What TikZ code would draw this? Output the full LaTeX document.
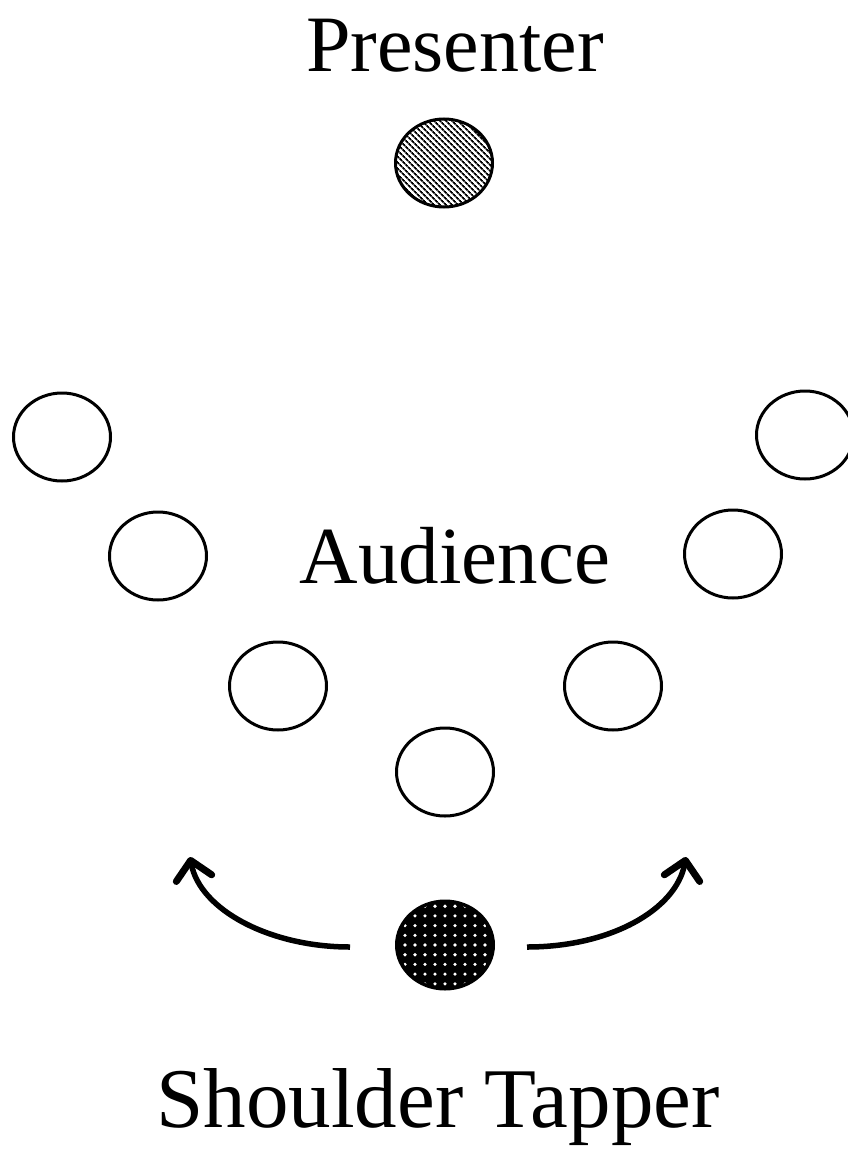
\documentclass[tikz,border=0pt]{standalone}
\usepackage{fontspec}
\setmainfont{Liberation Serif}
\usetikzlibrary{shapes.geometric,arrows.meta,patterns.meta}
\tikzset{
  person/.style={ellipse, draw, line width=3pt, minimum width=97pt, minimum height=88pt, inner sep=0pt},
  tap/.style={line width=5.5pt, -{Straight Barb[length=18pt,width=36pt,line width=7pt,round]}},
  lbl/.style={anchor=base, inner sep=0pt}
}
\begin{document}
\begin{tikzpicture}[x=1pt,y=-1pt]
\useasboundingbox (0,0) rectangle (847,1164);
\node[lbl, font=\fontsize{80}{88}\selectfont] (ptext) at (455,71) {Presenter};
\node[person, pattern={Lines[angle=-45,distance=4pt,line width=1.9pt]}] (pres) at (444,163) {};
\node[lbl, font=\fontsize{81}{88}\selectfont] (atext) at (455,583) {Audience};
\node[person] (a1) at (62,437) {};
\node[person] (a2) at (158,556) {};
\node[person] (a3) at (278,686) {};
\node[person] (a4) at (445,772) {};
\node[person] (a5) at (613,686) {};
\node[person] (a6) at (733,554) {};
\node[person] (a7) at (805,435) {};
\node[person, fill=black] (tapper) at (445,945) {};
\begin{scope}
  \clip (445,945) ellipse (46pt and 42pt);
  \foreach \i in {-5,...,5}{
    \foreach \j in {-5,...,5}{
      \fill[white] ({445+10*\i},{945+9.7*\j}) circle (1.8pt);
    }
  }
\end{scope}
\coordinate (ltip) at (190,857);
\coordinate (rtip) at (686,857);
\draw[tap] (tapper.west) ++(-45,2) .. controls (270,947) and (200,910) .. (ltip);
\draw[tap] (tapper.east) ++(32,2) .. controls (610,947) and (676,910) .. (rtip);
\node[lbl, font=\fontsize{85}{92}\selectfont] (stext) at (438,1127) {Shoulder Tapper};
\end{tikzpicture}
\end{document}
